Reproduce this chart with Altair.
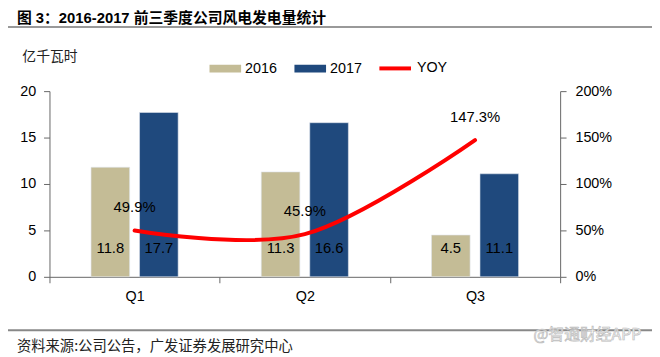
import altair as alt
import pandas as pd

# ---- data ----
quarters = ["Q1", "Q2", "Q3"]
years = ["2016", "2017"]
gen_2016 = [11.8, 11.3, 4.5]
gen_2017 = [17.7, 16.6, 11.1]
yoy = [0.499, 0.459, 1.473]
yoy_labels = ["49.9%", "45.9%", "147.3%"]
left_ticks = [0, 5, 10, 15, 20]
right_ticks = [0, 0.5, 1.0, 1.5, 2.0]

title_text = "图 3：2016-2017 前三季度公司风电发电量统计"
unit_text = "亿千瓦时"
source_text = "资料来源:公司公告，广发证券发展研究中心"
watermark_text = "@智通财经APP"

bar_colors = ["#C4BC96", "#1F497D"]
line_color = "#FF0000"
axis_color = "#666666"
LATIN = "Liberation Sans, Noto Sans CJK SC"
CJK = "Noto Sans CJK SC"

bars_df = pd.DataFrame({
    "quarter": quarters * 2,
    "year": [years[0]] * 3 + [years[1]] * 3,
    "value": gen_2016 + gen_2017,
})
bars_df["label"] = bars_df["value"].map(lambda v: f"{v:.1f}")
bars_df["base"] = 0

yoy_df = pd.DataFrame({
    "quarter": quarters,
    "yoy": yoy,
    "label": yoy_labels,
    "series": ["YOY"] * 3,
})

x_enc = alt.X(
    "quarter:N",
    sort=quarters,
    scale=alt.Scale(paddingInner=0, paddingOuter=0),
    axis=alt.Axis(
        title=None, tickBand="extent", labelAngle=0, labelFont=LATIN,
        labelFontSize=14.5, labelColor="#000000", labelPadding=7,
        tickSize=6, domainColor=axis_color, tickColor=axis_color,
        grid=False,
    ),
)
xoff = alt.XOffset("year:N", sort=years,
                   scale=alt.Scale(paddingInner=0.204, paddingOuter=0.857))

left_axis = alt.Axis(
    orient="left", values=left_ticks, grid=False, title=unit_text,
    titleAngle=0, titleAlign="left", titleBaseline="middle",
    titleX=-28, titleY=-35, titleFont=CJK, titleFontSize=14,
    titleFontWeight="normal", titleColor="#222222",
    labelFont=LATIN, labelFontSize=14.5, labelColor="#000000",
    labelPadding=8, tickSize=6, domainColor=axis_color, tickColor=axis_color,
)
left_scale = alt.Scale(domain=[0, 20], nice=False)

right_axis = alt.Axis(
    orient="right", values=right_ticks, format=".0%", grid=False, title=None,
    labelFont=LATIN, labelFontSize=14.5, labelColor="#000000",
    labelPadding=9, tickSize=6, domainColor=axis_color, tickColor=axis_color,
)
right_scale = alt.Scale(domain=[0, 2], nice=False)

bars = alt.Chart(bars_df).mark_bar(stroke="#dfe4ec", strokeWidth=0.6).encode(
    x=x_enc,
    xOffset=xoff,
    y=alt.Y("value:Q", scale=left_scale, axis=left_axis, title=unit_text),
    fill=alt.Fill(
        "year:N",
        scale=alt.Scale(domain=years, range=bar_colors),
        legend=alt.Legend(
            orient="none", legendX=162, legendY=-39, direction="horizontal",
            title=None, labelFont=LATIN, labelFontSize=14.5, labelColor="#000000",
            symbolType="M-1,-0.25H1V0.25H-1Z", symbolSize=1024,
            symbolStrokeWidth=0, labelOffset=4, columnPadding=17, padding=0,
        ),
    ),
)

bar_text = alt.Chart(bars_df).mark_text(
    font=LATIN, fontSize=15, color="#000000", baseline="middle", dy=-29
).encode(
    x=alt.X("quarter:N", sort=quarters),
    xOffset=xoff,
    y=alt.Y("base:Q", scale=left_scale, axis=left_axis, title=unit_text),
    text="label:N",
)

line = alt.Chart(yoy_df).mark_line(
    interpolate="cardinal", strokeWidth=4, strokeCap="round"
).encode(
    x=alt.X("quarter:N", sort=quarters),
    y=alt.Y("yoy:Q", scale=right_scale, axis=right_axis, title=None),
    stroke=alt.Stroke(
        "series:N",
        scale=alt.Scale(domain=["YOY"], range=[line_color]),
        legend=alt.Legend(
            orient="none", legendX=332, legendY=-41, direction="horizontal",
            title=None, labelFont=LATIN, labelFontSize=14.5, labelColor="#000000",
            symbolType="stroke", symbolSize=1024, symbolStrokeWidth=4,
            labelOffset=4, padding=0,
        ),
    ),
)

yoy_text = alt.Chart(yoy_df).mark_text(
    font=LATIN, fontSize=15, color="#000000", baseline="middle", dy=-23.5
).encode(
    x=alt.X("quarter:N", sort=quarters),
    y=alt.Y("yoy:Q", scale=right_scale, axis=right_axis, title=None),
    text="label:N",
)

one = pd.DataFrame({"k": [0]})

title_mark = alt.Chart(one).mark_text(
    text=title_text, font=LATIN, fontSize=15, fontWeight="bold",
    align="left", baseline="middle", color="#000000"
).encode(x=alt.value(-33), y=alt.value(-74))

top_rule = alt.Chart(one).mark_rule(color="#999999", strokeWidth=2).encode(
    x=alt.value(-44), x2=alt.value(610), y=alt.value(-65)
)
bottom_rule = alt.Chart(one).mark_rule(color="#888888", strokeWidth=2).encode(
    x=alt.value(-44), x2=alt.value(610), y=alt.value(242)
)
source_mark = alt.Chart(one).mark_text(
    text=source_text, font=CJK, fontSize=14.5, align="left",
    baseline="middle", color="#222222"
).encode(x=alt.value(-33), y=alt.value(259))
watermark = alt.Chart(one).mark_text(
    text=watermark_text, font=CJK, fontSize=16, align="left",
    baseline="middle", fill="#ffffff", stroke="#bbbbbb", strokeWidth=0.7
).encode(x=alt.value(490), y=alt.value(247))

left = alt.layer(bars, bar_text)
right = alt.layer(line, yoy_text)

chart = alt.layer(
    left, right, title_mark, top_rule, bottom_rule, source_mark, watermark
).resolve_scale(
    y="independent", fill="independent", stroke="independent"
).properties(
    width=517, height=188,
    autosize=alt.AutoSizeParams(type="none"),
    padding={"left": 42, "top": 82, "right": 93, "bottom": 79},
    background="#ffffff",
).configure_view(stroke=None)

chart.save("out.html", embed_options={"renderer": "svg", "actions": False})
